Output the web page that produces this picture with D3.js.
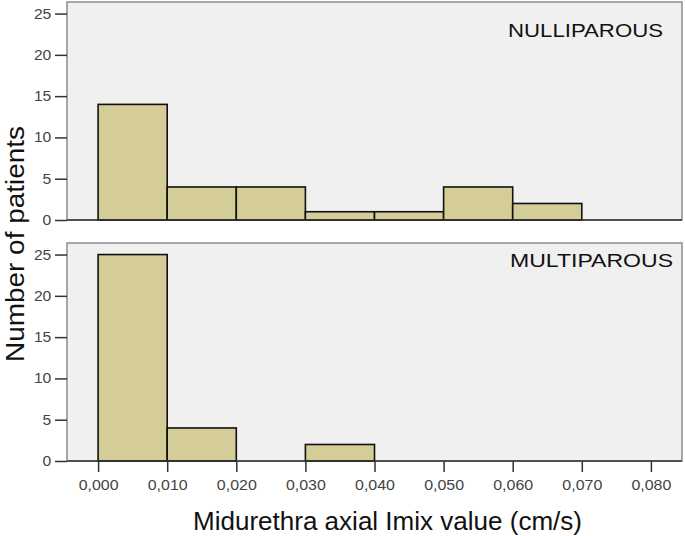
<!DOCTYPE html>
<html>
<head>
<meta charset="utf-8">
<script src="https://cdn.jsdelivr.net/npm/d3@7"></script>
<style>
  body { margin: 0; background: #fff; }
  text { font-family: Arial, "Liberation Sans", sans-serif; }
</style>
</head>
<body>
<script>
// bins of Imix value (cm/s)
var binEdges = [0, 0.01, 0.02, 0.03, 0.04, 0.05, 0.06, 0.07];
var nulliparous = [14, 4, 4, 1, 1, 4, 2];
var multiparous = [25, 4, 0, 2, 0, 0, 0];
var panelNames = ["NULLIPAROUS", "MULTIPAROUS"];
var xTicks = [0, 0.01, 0.02, 0.03, 0.04, 0.05, 0.06, 0.07, 0.08];
var yTicks = [0, 5, 10, 15, 20, 25];

var width = 685, height = 536;
var left = 67, right = 682;
var panels = [
    { name: panelNames[0], values: nulliparous, top: 2, bottom: 220 },
    { name: panelNames[1], values: multiparous, top: 243, bottom: 461 }
];

var svg = d3.select("body").append("svg")
    .attr("width", width)
    .attr("height", height);

var x = d3.scaleLinear()
    .domain([-0.0045, 0.0845])
    .range([left, right]);

var fmt = function (d) { return d3.format(".3f")(d).replace(".", ","); };

panels.forEach(function (p, pi) {
    var y = d3.scaleLinear()
        .domain([0, 26.4])
        .range([p.bottom, p.top]);

    var g = svg.append("g");

    g.append("rect")
        .attr("x", left)
        .attr("y", p.top)
        .attr("width", right - left)
        .attr("height", p.bottom - p.top)
        .attr("fill", "#f0f0f0")
        .attr("stroke", "#8c8c8c")
        .attr("stroke-width", 1.5);

    var bins = p.values.map(function (v, i) {
        return { x0: binEdges[i], x1: binEdges[i] + 0.01, n: v };
    }).filter(function (d) { return d.n > 0; });

    g.selectAll(".bar")
        .data(bins)
        .enter().append("rect")
        .attr("class", "bar")
        .attr("x", function (d) { return x(d.x0); })
        .attr("y", function (d) { return y(d.n); })
        .attr("width", function (d) { return x(d.x1) - x(d.x0); })
        .attr("height", function (d) { return y(0) - y(d.n); })
        .attr("fill", "#d4cd98")
        .attr("stroke", "#111")
        .attr("stroke-width", 1.6);

    // baseline
    g.append("line")
        .attr("x1", left).attr("x2", right)
        .attr("y1", p.bottom).attr("y2", p.bottom)
        .attr("stroke", "#333").attr("stroke-width", 1.5);

    var yAxis = d3.axisLeft(y).tickValues(yTicks).tickSize(12).tickPadding(0);
    var ya = g.append("g")
        .attr("transform", "translate(" + left + ",0)")
        .call(yAxis);
    ya.select(".domain").remove();
    ya.selectAll(".tick line").attr("stroke", "#333").attr("stroke-width", 1.5);
    ya.selectAll(".tick text")
        .attr("x", -14)
        .attr("transform", "scale(1.12,1)")
        .attr("fill", "#444")
        .style("font-size", "14px");

    g.append("text")
        .attr("x", pi == 0 ? 663 : 673)
        .attr("y", p.top + (pi == 0 ? 35 : 24))
        .attr("text-anchor", "end")
        .attr("fill", "#111")
        .style("font-size", "19px")
        .attr("textLength", pi == 0 ? 155 : 163)
        .attr("lengthAdjust", "spacingAndGlyphs")
        .text(p.name);

    if (pi == 1) {
        var xAxis = d3.axisBottom(x).tickValues(xTicks).tickFormat(fmt).tickSize(11).tickPadding(8);
        var xa = g.append("g")
            .attr("transform", "translate(0," + p.bottom + ")")
            .call(xAxis);
        xa.select(".domain").remove();
        xa.selectAll(".tick line").attr("stroke", "#333").attr("stroke-width", 1.5);
        xa.selectAll(".tick text")
            .attr("transform", "scale(1.14,1)")
            .attr("fill", "#444")
            .style("font-size", "14px");
    }
});

svg.append("text")
    .attr("x", 193)
    .attr("y", 530)
    .attr("fill", "#111")
    .style("font-size", "25px")
    .attr("textLength", 389)
    .attr("lengthAdjust", "spacingAndGlyphs")
    .text("Midurethra axial Imix value (cm/s)");

svg.append("text")
    .attr("transform", "translate(24,244) rotate(-90)")
    .attr("text-anchor", "middle")
    .attr("fill", "#111")
    .style("font-size", "25px")
    .attr("textLength", 236)
    .attr("lengthAdjust", "spacingAndGlyphs")
    .text("Number of patients");
</script>
</body>
</html>
